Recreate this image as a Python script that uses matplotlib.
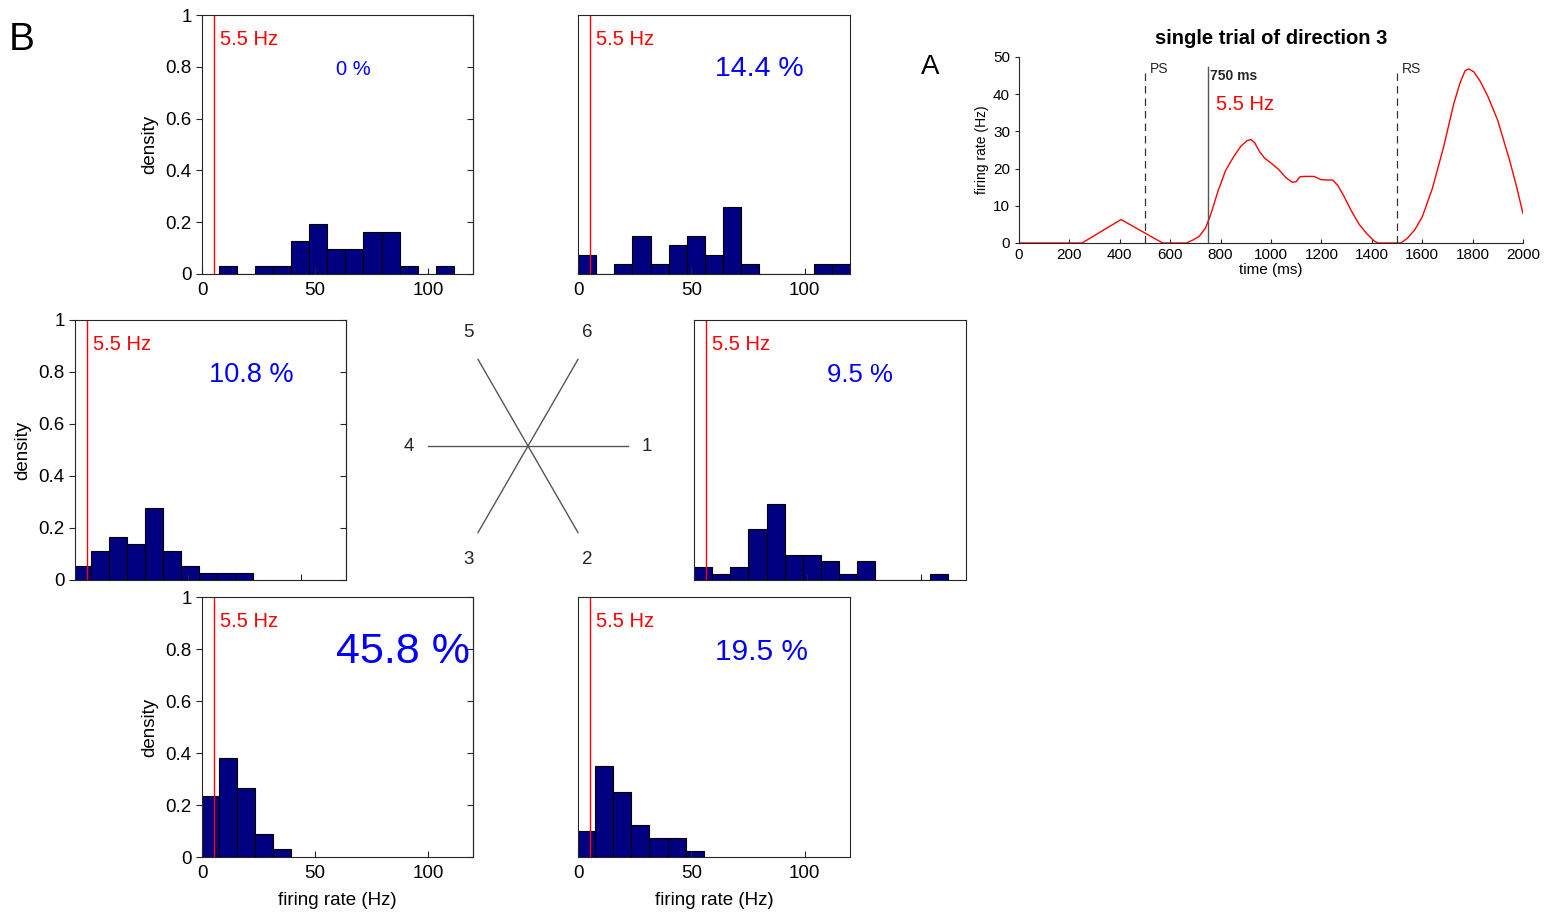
import numpy as np
import matplotlib.pyplot as plt

plt.rcParams['font.family'] = ['Liberation Sans', 'DejaVu Sans']

W, H = 1551, 913

# firing-rate histograms per movement direction (first bin edge, counts per 8 Hz bin)
bin_width = 8.0
dir1_start, dir1_counts = 0.0, [2, 1, 2, 8, 12, 4, 4, 3, 1, 3, 0, 0, 0, 1]
dir2_start, dir2_counts = -0.5, [4, 14, 10, 5, 3, 3, 1]
dir3_start, dir3_counts = -0.5, [8, 13, 9, 3, 1]
dir4_start, dir4_counts = -1.0, [2, 4, 6, 5, 10, 4, 2, 1, 1, 1]
dir5_start, dir5_counts = 7.5, [1, 0, 1, 1, 4, 6, 3, 3, 5, 5, 1, 0, 1]
dir6_start, dir6_counts = 0.0, [2, 0, 1, 4, 1, 3, 4, 2, 7, 1, 0, 0, 0, 1, 1]

# percentage of trials below threshold
dir_percent = {1: 9.5, 2: 19.5, 3: 45.8, 4: 10.8, 5: 0.0, 6: 14.4}
threshold_hz = 5.5

# single trial of direction 3
trial_time = [0, 250, 405, 570, 665, 690, 715, 740, 760, 790, 820, 850, 880, 905,
              920, 935, 955, 975, 1000, 1030, 1060, 1085, 1100, 1115, 1130, 1170,
              1200, 1245, 1265, 1290, 1320, 1350, 1380, 1410, 1425, 1515, 1540,
              1570, 1600, 1640, 1685, 1725, 1750, 1770, 1785, 1805, 1830, 1860,
              1900, 1947, 1975, 2000]
trial_rate = [0, 0, 6.3, 0, 0, 0.8, 1.8, 4.0, 7.5, 14.0, 19.5, 23.0, 26.0, 27.5,
              27.8, 27.0, 24.5, 22.8, 21.5, 19.8, 17.5, 16.3, 16.5, 17.8, 17.9, 17.9,
              17.0, 16.9, 15.5, 12.5, 8.5, 5.0, 2.5, 0.5, 0, 0, 1.2, 3.5,
              7.0, 14.6, 25.8, 37.4, 43.0, 46.3, 46.8, 46.0, 43.5, 39.5,
              32.9, 22.2, 15.0, 7.9]
ps_time, go_time, rs_time = 500, 750, 1500

fig = plt.figure(figsize=(W / 100, H / 100), dpi=100)


def px_axes(l, t, r, b):
    return fig.add_axes([l / W, 1 - b / H, (r - l) / W, (b - t) / H])


hists = {
    1: (dir1_start, dir1_counts),
    2: (dir2_start, dir2_counts),
    3: (dir3_start, dir3_counts),
    4: (dir4_start, dir4_counts),
    5: (dir5_start, dir5_counts),
    6: (dir6_start, dir6_counts),
}

# direction: (box in pixels, x tick labels, y axis, xlabel, text size of percentage, x of percentage)
panels = {
    5: ((202, 15, 473, 274), True, True, False, 14.5, 67),
    6: ((578, 15, 850, 274), True, False, False, 20.5, 80),
    4: ((75, 320, 346, 580), False, True, False, 19.5, 78),
    1: ((694, 320, 966, 580), False, False, False, 18.5, 73),
    3: ((202, 597, 473, 857), True, True, True, 31, 89),
    2: ((578, 597, 850, 857), True, False, True, 21.5, 81),
}

yt = [0, 0.2, 0.4, 0.6, 0.8, 1]
ytl = ['0', '0.2', '0.4', '0.6', '0.8', '1']

for d, (box, xlab, yaxis, xtitle, pct_size, pct_x) in panels.items():
    ax = px_axes(*box)
    start, counts = hists[d]
    counts = np.array(counts, dtype=float)
    density = counts / counts.sum()
    left = start + bin_width * np.arange(len(counts))
    ax.bar(left, density, width=bin_width, align='edge', color='#000080',
           edgecolor='black', linewidth=0.8)
    ax.axvline(threshold_hz, color='red', linewidth=1)
    ax.text(7.9, 0.905, f'{threshold_hz} Hz', color='red', fontsize=14.5,
            ha='left', va='center')
    ax.text(pct_x, 0.79, f'{dir_percent[d]:g} %', color='blue', fontsize=pct_size,
            ha='center', va='center')
    ax.set_xlim(0, 120)
    ax.set_ylim(0, 1)
    for s in ax.spines.values():
        s.set_color('#262626')
        s.set_linewidth(0.8)
    ax.set_xticks([0, 50, 100])
    ax.tick_params(axis='x', direction='in', length=4, labelsize=13.5,
                   labelbottom=xlab, color='#262626', pad=6)
    if yaxis:
        ax.set_yticks(yt, ytl)
        ax.tick_params(axis='y', direction='out', length=4, labelsize=13.5,
                       color='#262626')
        ax.set_ylabel('density', fontsize=13.5, labelpad=5)
        sec = ax.secondary_yaxis('right')
        sec.set_yticks(yt)
        sec.tick_params(direction='in', length=4, labelright=False, color='#262626')
        sec.spines['right'].set_color('#262626')
        sec.spines['right'].set_linewidth(0.8)
    else:
        ax.set_yticks([])
    if xtitle:
        ax.set_xlabel('firing rate (Hz)', fontsize=13.5, labelpad=7)

# movement directions
star = px_axes(378, 296, 678, 596)
star.set_xlim(-1.5, 1.5)
star.set_ylim(-1.5, 1.5)
star.axis('off')
dir_angles = {1: 0, 2: -60, 3: -120, 4: 180, 5: 120, 6: 60}
for d, ang in dir_angles.items():
    a = np.deg2rad(ang)
    star.plot([0, np.cos(a)], [0, np.sin(a)], color='#555555', linewidth=1)
    star.text(1.19 * np.cos(a), 1.31 * np.sin(a), str(d), fontsize=13.5,
              color='#262626', ha='center', va='center')

# single trial panel
axa = px_axes(1019, 57, 1523, 243)
axa.plot(trial_time, trial_rate, color='red', linewidth=1)
axa.plot([ps_time, ps_time], [0, 46], color='#333333', linewidth=0.9,
         linestyle=(0, (6, 4)))
axa.plot([rs_time, rs_time], [0, 46], color='#333333', linewidth=0.9,
         linestyle=(0, (6, 4)))
axa.plot([go_time, go_time], [0, 47.2], color='#555555', linewidth=1)
axa.text(ps_time + 18, 46.7, 'PS', fontsize=10, color='#262626', va='center')
axa.text(rs_time + 18, 46.7, 'RS', fontsize=10, color='#262626', va='center')
axa.text(go_time + 8, 44.8, f'{go_time} ms', fontsize=10, fontweight='bold',
         color='#262626', va='center')
axa.text(go_time + 32, 37.2, f'{threshold_hz} Hz', fontsize=14.5, color='red',
         va='center')
axa.set_xlim(0, 2000)
axa.set_ylim(0, 50)
axa.set_xticks(np.arange(0, 2001, 200))
axa.set_yticks(np.arange(0, 51, 10))
axa.spines['top'].set_visible(False)
axa.spines['right'].set_visible(False)
for s in ('left', 'bottom'):
    axa.spines[s].set_color('#262626')
    axa.spines[s].set_linewidth(0.8)
axa.tick_params(axis='x', direction='in', length=3, labelsize=11, color='#262626')
axa.tick_params(axis='y', direction='out', length=3, labelsize=11, color='#262626')
axa.set_xlabel('time (ms)', fontsize=11, labelpad=1)
axa.set_ylabel('firing rate (Hz)', fontsize=10, labelpad=3)
axa.set_title('single trial of direction 3', fontsize=14.5, fontweight='bold', pad=9)

fig.text(22 / W, 1 - 40 / H, 'B', fontsize=28, ha='center', va='center')
fig.text(930 / W, 1 - 67 / H, 'A', fontsize=20, ha='center', va='center')

fig.savefig('out.png', dpi=100)
